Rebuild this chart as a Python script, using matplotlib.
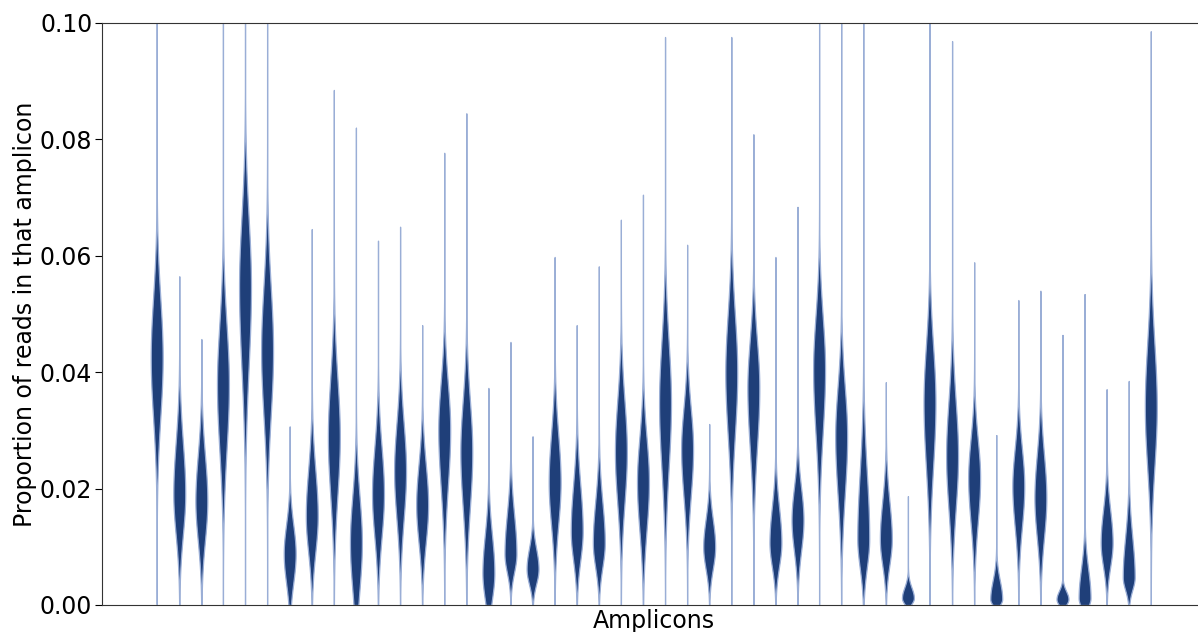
import numpy as np
import matplotlib
matplotlib.use("Agg")
import matplotlib.pyplot as plt

# ---- data (proportion of reads per amplicon) ----
# mode of each violin, lower/upper spread, min and max of the data
mode = [0.0424, 0.0191, 0.0179, 0.0378, 0.0546, 0.0436, 0.0088, 0.0153,
        0.0289, 0.0107, 0.0191, 0.0230, 0.0172, 0.0301, 0.0263, 0.0055,
        0.0088, 0.0062, 0.0211, 0.0127, 0.0107, 0.0263, 0.0211, 0.0347,
        0.0268, 0.0100, 0.0399, 0.0373, 0.0107, 0.0146, 0.0404, 0.0289,
        0.0113, 0.0113, 0.0012, 0.0347, 0.0256, 0.0218, 0.0010, 0.0204,
        0.0184, 0.0010, 0.0012, 0.0107, 0.0048, 0.0340]
spread_lo = [0.0103, 0.0070, 0.0068, 0.0112, 0.0138, 0.0112, 0.0050, 0.0062,
             0.0100, 0.0080, 0.0074, 0.0082, 0.0065, 0.0097, 0.0095, 0.0045,
             0.0032, 0.0026, 0.0073, 0.0050, 0.0042, 0.0088, 0.0082, 0.0112,
             0.0082, 0.0038, 0.0106, 0.0103, 0.0041, 0.0053, 0.0109, 0.0100,
             0.0049, 0.0044, 0.0010, 0.0110, 0.0091, 0.0076, 0.0010, 0.0070,
             0.0068, 0.0010, 0.0015, 0.0041, 0.0022, 0.0103]
spread_hi = [0.0103, 0.0088, 0.0078, 0.0103, 0.0118, 0.0111, 0.0050, 0.0079,
             0.0100, 0.0080, 0.0080, 0.0082, 0.0070, 0.0080, 0.0088, 0.0065,
             0.0068, 0.0035, 0.0082, 0.0079, 0.0070, 0.0088, 0.0076, 0.0105,
             0.0071, 0.0047, 0.0100, 0.0082, 0.0061, 0.0055, 0.0091, 0.0085,
             0.0112, 0.0065, 0.0018, 0.0097, 0.0094, 0.0067, 0.0032, 0.0065,
             0.0074, 0.0014, 0.0050, 0.0056, 0.0068, 0.0109]
data_min = [0.0] * 46
data_max = [0.1200, 0.0565, 0.0457, 0.1200, 0.1200, 0.1200, 0.0307, 0.0646,
            0.0885, 0.0820, 0.0626, 0.0650, 0.0481, 0.0777, 0.0845, 0.0373,
            0.0452, 0.0290, 0.0598, 0.0481, 0.0582, 0.0662, 0.0705, 0.0976,
            0.0619, 0.0311, 0.0976, 0.0809, 0.0598, 0.0684, 0.1200, 0.1200,
            0.1200, 0.0383, 0.0187, 0.1200, 0.0969, 0.0589, 0.0292, 0.0524,
            0.0540, 0.0464, 0.0534, 0.0371, 0.0385, 0.0986]

yticks = [0.00, 0.02, 0.04, 0.06, 0.08, 0.10]
ylabel = "Proportion of reads in that amplicon"
xlabel = "Amplicons"

n = len(mode)
positions = np.arange(n)

vpstats = []
for i in range(n):
    coords = np.linspace(data_min[i], data_max[i], 800)
    sig = np.where(coords < mode[i], spread_lo[i], spread_hi[i])
    vals = np.exp(-0.5 * ((coords - mode[i]) / sig) ** 2)
    vpstats.append(dict(coords=coords, vals=vals, mean=mode[i], median=mode[i],
                        min=data_min[i], max=data_max[i]))

fig = plt.figure(figsize=(11.98, 6.32), dpi=100)
ax = fig.add_axes([102 / 1198, 27 / 632, (1206 - 102) / 1198, 582 / 632])

parts = ax.violin(vpstats, positions=positions, widths=0.54,
                  showmeans=False, showextrema=False, showmedians=False)
face = '#1f3f79'
for b in parts['bodies']:
    b.set_alpha(None)
    b.set_facecolor(face)
    b.set_edgecolor('#9aaed6')
    b.set_linewidth(0.9)

ax.set_xlim(-2.5, n + 1.5)
ax.set_ylim(0, 0.10)
ax.set_yticks(yticks)
ax.set_yticklabels([f"{t:.2f}" for t in yticks])
ax.set_xticks([])
ax.tick_params(axis='y', labelsize=17, length=5, pad=2)
ax.set_ylabel(ylabel, fontsize=17, labelpad=2)
ax.set_xlabel(xlabel, fontsize=17, labelpad=3)
ax.spines['right'].set_visible(False)
for s in ['top', 'left', 'bottom']:
    ax.spines[s].set_color('#333333')

fig.savefig("out.png", dpi=100)
